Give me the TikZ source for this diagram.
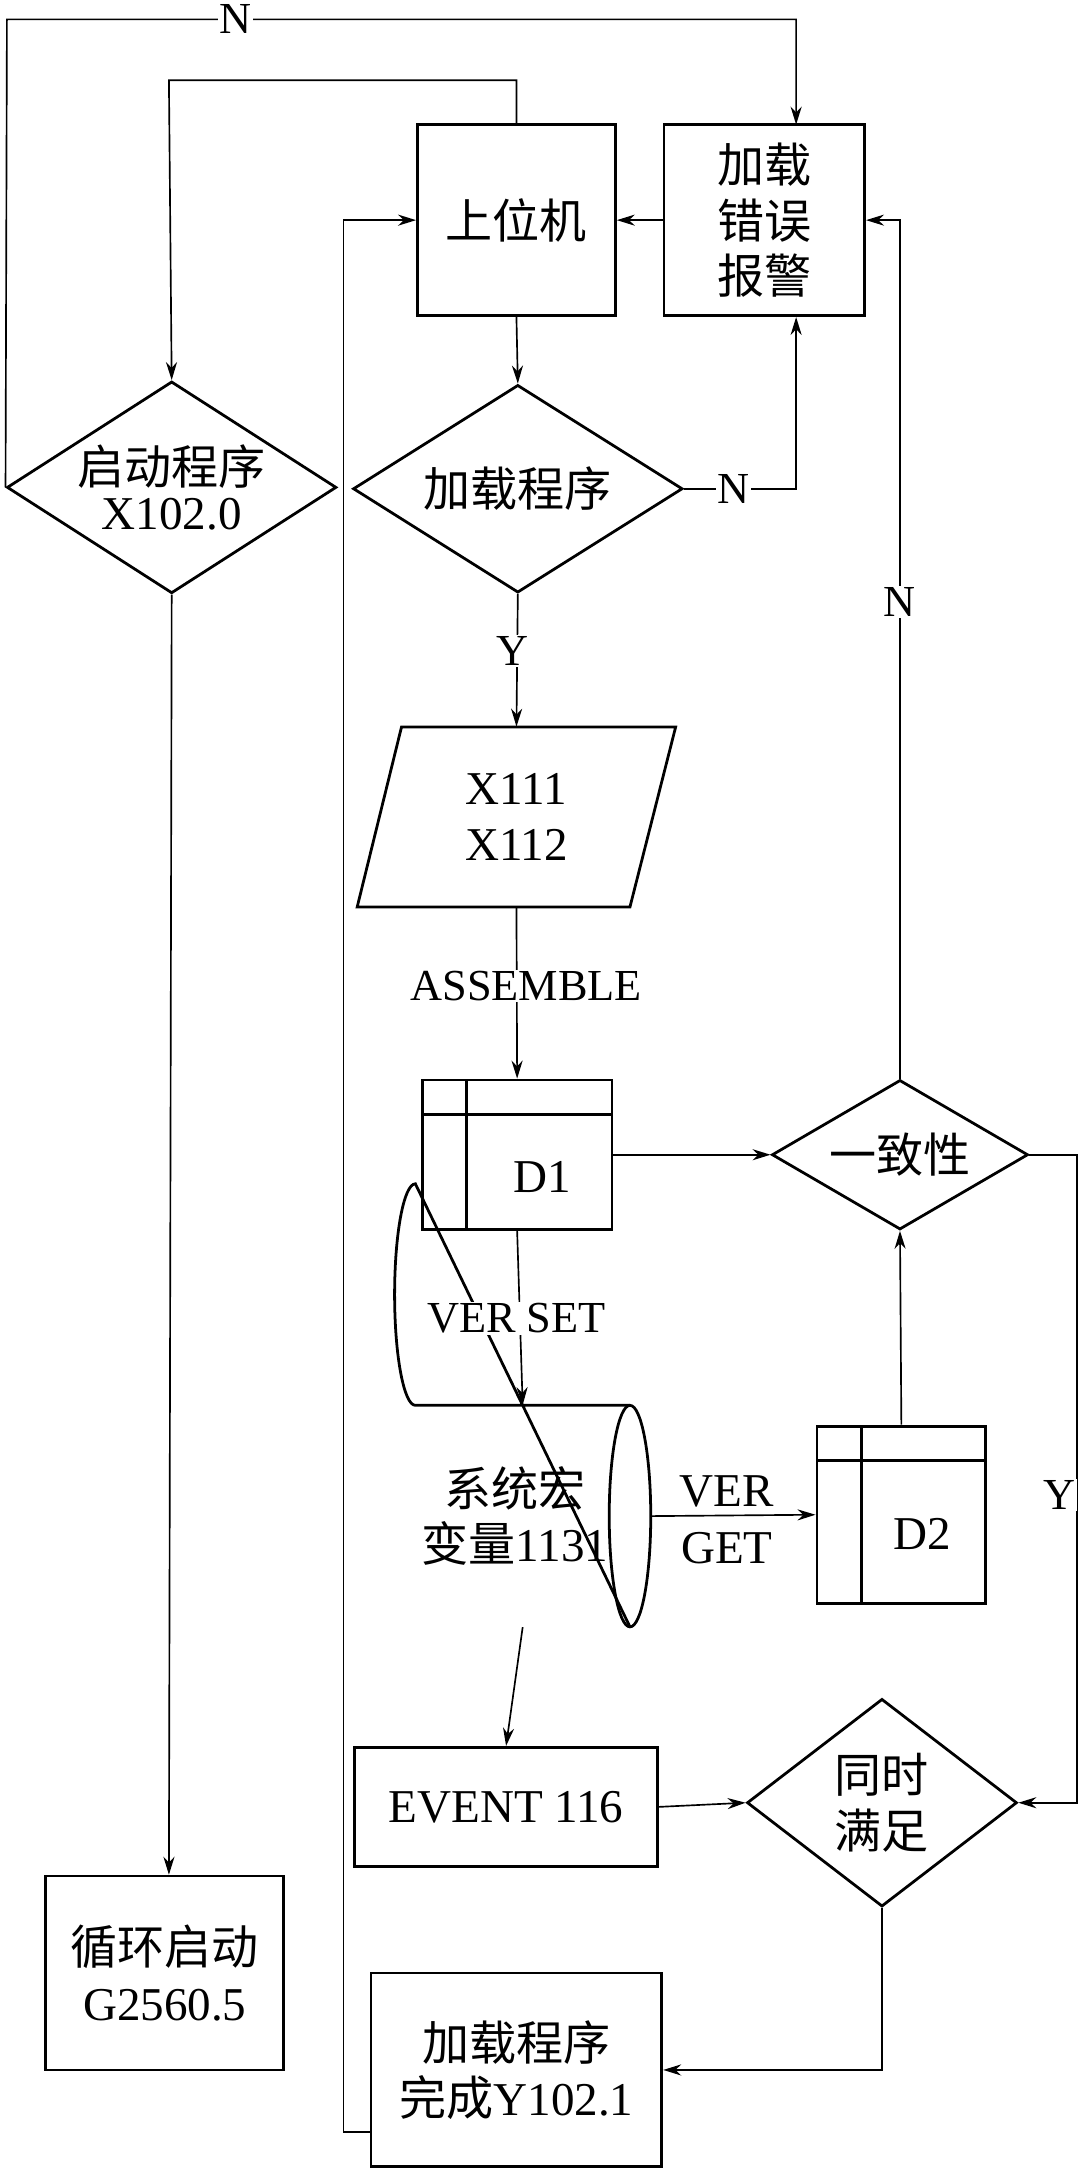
\documentclass[tikz,border=0pt]{standalone}
\usepackage{fontspec}
\setmainfont{Liberation Serif}
\newfontfamily\cjk{Noto Sans CJK SC}
\usetikzlibrary{shapes.geometric,arrows.meta}
\begin{document}
\begin{tikzpicture}[x=1pt,y=-1pt,
  box/.style={draw,line width=2pt,inner sep=0pt},
  dia/.style={draw,diamond,line width=2pt,inner sep=0pt},
  txt/.style={font=\fontsize{34}{40}\selectfont,align=center,inner sep=0pt},
  lab/.style={font=\fontsize{32}{36}\selectfont,inner sep=1pt,fill=white},
  arr/.style={line width=1.2pt,-{Stealth[length=13pt,width=8pt]}},
  ln/.style={line width=1.2pt}]
\useasboundingbox (0,0) rectangle (780,1568);
% boxes
\node[box,minimum width=143pt,minimum height=138pt] (host) at (373,159) {};
\node[txt] at (host) {\cjk 上位机};
\node[box,minimum width=145pt,minimum height=138pt] (err) at (552,159) {};
\node[txt] at (err) {\cjk 加载\\\cjk 错误\\\cjk 报警};
\node[dia,minimum width=238pt,minimum height=153pt] (start) at (124,352) {};
\node[txt] at (start) {\cjk 启动程序\\[-8pt]X102.0};
\node[dia,minimum width=238pt,minimum height=150pt] (load) at (374,353) {};
\node[txt] at (load) {\cjk 加载程序};
% parallelogram
\draw[line width=2pt] (290,525)--(488,525)--(455,655)--(258,655)--cycle;
\node[minimum width=200pt,minimum height=130pt,inner sep=0pt] (par) at (373,590) {};
\node[txt] at (par) {X111\\X112};
% D1
\node[box,minimum width=137pt,minimum height=108pt] (d1) at (373.5,834) {};
\draw[line width=2pt] (305,805)--(442,805) (337,780)--(337,888);
\node[txt] at (392,850) {D1};
\node[dia,minimum width=185pt,minimum height=108pt] (cons) at (650,834) {};
\node[txt] at (cons) {\cjk 一致性};
% cylinder
\draw[line width=2pt] (455,1015)--(300,1015) arc[start angle=90,end angle=270,x radius=15,y radius=80]--(455,1175);
\draw[line width=2pt] (455,1095) ellipse[x radius=15,y radius=80];
\node[minimum width=185pt,minimum height=160pt,inner sep=0pt] (cyl) at (377.5,1095) {};
\node[txt] at (372,1095) {\cjk 系统宏\\\cjk 变量\normalfont 1131};
% D2
\node[box,minimum width=122pt,minimum height=128pt] (d2) at (651,1094) {};
\draw[line width=2pt] (590,1055)--(712,1055) (622,1030)--(622,1158);
\node[txt] at (666,1108) {D2};
% event
\node[box,minimum width=219pt,minimum height=86pt] (ev) at (365.5,1305) {};
\node[txt] at (ev) {EVENT 116};
\node[dia,minimum width=195pt,minimum height=150pt] (both) at (637,1302) {};
\node[txt] at (both) {\cjk 同时\\\cjk 满足};
\node[box,minimum width=172pt,minimum height=140pt] (cyc) at (119,1425) {};
\node[txt] at (cyc) {\cjk 循环启动\\G2560.5};
\node[box,minimum width=210pt,minimum height=140pt] (done) at (373,1495) {};
\node[txt] at (done) {\cjk 加载程序\\\cjk 完成\normalfont Y102.1};
% connectors
\draw[arr] (start.west) -- (5,14) -- (575,14) -- (575,90);
\node[lab] at (170,14) {N};
\draw[arr] (host.north) -- (373,58) -- (122,58) -- (start.north);
\draw[arr] (err.west) -- (host.east);
\draw[arr] (host.south) -- (load.north);
\draw[arr] (load.east) -- (575,353) -- (err.south -| 575,0);
\node[lab] at (530,353) {N};
\draw[arr] (load.south) -- (par.north);
\node[lab] at (370,470) {Y};
\draw[arr] (par.south) -- (d1.north);
\node[lab] at (380,712) {ASSEMBLE};
\draw[arr] (d1.east) -- (cons.west);
\draw[arr] (cons.north) -- (650,159) -- (err.east);
\node[lab] at (650,435) {N};
\draw[arr] (cons.east) -- (778,834) -- (778,1302) -- (both.east);
\node[lab] at (765,1080) {Y};
\draw[arr] (d1.south) -- (cyl.north);
\node[lab] at (373,952) {VER SET};
\draw[arr] (470,1095) -- (d2.west);
\node[txt,fill=white] at (525,1077) {VER};
\node[txt] at (525,1118) {GET};
\draw[arr] (d2.north) -- (cons.south);
\draw[arr] (cyl.south) -- (ev.north);
\draw[arr] (ev.east) -- (both.west);
\draw[arr] (both.south) -- (637,1495) -- (done.east);
\draw[arr] (done.west |- 0,1540) -- (248,1540) -- (248,159) -- (host.west);
\draw[arr] (start.south) -- (cyc.north -| 122,0);
\end{tikzpicture}
\end{document}
